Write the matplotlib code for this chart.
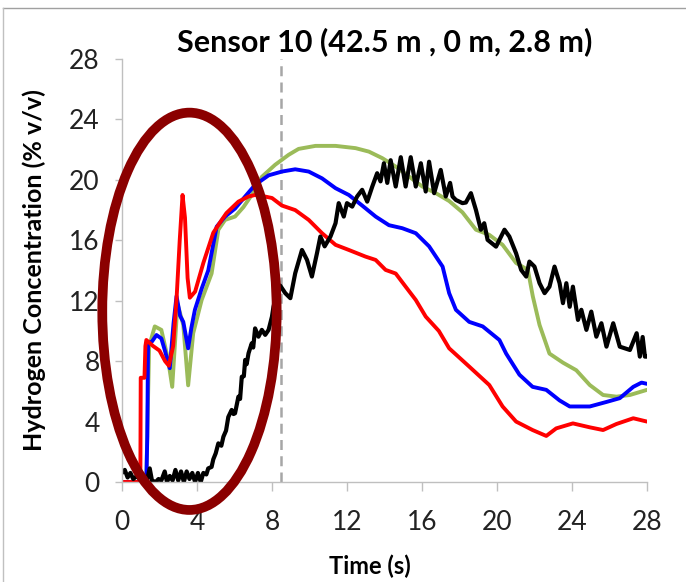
import matplotlib

matplotlib.use("Agg")
import matplotlib.pyplot as plt
from matplotlib.patches import Ellipse
from matplotlib.lines import Line2D

plt.rcParams["font.family"] = ["Lato", "DejaVu Sans"]

# --- data (time in s, concentration in % v/v) ---
red_t = [0, 0.98, 1.0, 1.2, 1.25, 1.3, 1.66, 2.0, 2.3, 2.5, 2.73, 2.91, 3.08, 3.23,
         3.36, 3.5, 3.62, 3.9, 4.34, 4.87, 5.32, 5.57, 6.21, 6.75, 7.1, 7.46, 8.0,
         8.53, 9.24, 9.96, 10.67, 11.39, 12.1, 12.99, 13.53, 14.06, 14.6, 15.13,
         15.67, 16.2, 16.9, 17.45, 18.52, 19.59, 20.3, 21.02, 21.9, 22.63, 23.16,
         24.05, 24.95, 25.66, 26.37, 27.27, 28]
red_v = [0, 0, 6.9, 6.9, 9.0, 9.4, 9.0, 8.7, 8.0, 7.7, 9.0, 12.1, 16.0, 19.0,
         17.5, 13.5, 12.2, 12.6, 14.5, 16.5, 17.35, 17.8, 18.56, 18.9, 19.0, 18.94, 18.8,
         18.3, 18.0, 17.35, 16.47, 15.7, 15.36, 14.92, 14.7, 14.04, 13.8, 12.93,
         12.05, 10.95, 10.0, 8.85, 7.64, 6.42, 5.0, 4.0, 3.44, 3.05, 3.55,
         3.88, 3.62, 3.44, 3.84, 4.22, 4.0]

blue_t = [0, 1.3, 1.35, 1.39, 1.6, 1.84, 2.1, 2.28, 2.55, 2.75, 2.91, 3.1, 3.27,
          3.53, 3.7, 3.89, 4.25, 4.6, 5.05, 5.5, 6.03, 6.57, 7.1, 7.82, 8.53, 9.24,
          9.96, 10.67, 11.39, 12.1, 12.81, 13.53, 14.24, 14.95, 15.67, 16.38, 17.1,
          17.45, 17.81, 18.52, 19.24, 20.13, 20.49, 21.2, 21.9, 22.63, 23.34, 23.88,
          24.95, 25.84, 26.55, 27.27, 27.71, 28]
blue_v = [0, 0, 3.0, 9.2, 9.3, 9.73, 9.5, 8.74, 7.53, 10.5, 12.3, 11.0, 10.6,
          8.85, 10.2, 11.4, 12.8, 14.0, 16.9, 17.57, 18.1, 18.9, 19.67, 20.3, 20.55, 20.7,
          20.55, 20.1, 19.45, 19.0, 18.3, 17.57, 17.0, 16.8, 16.47, 15.6, 14.26,
          12.5, 11.4, 10.6, 10.3, 9.4, 8.5, 7.1, 6.3, 6.1, 5.4, 5.0,
          5.0, 5.3, 5.55, 6.3, 6.58, 6.5]

green_t = [0, 1.3, 1.32, 1.45, 1.75, 2.1, 2.46, 2.68, 2.96, 3.27, 3.53, 3.8, 4.25,
           4.78, 5.14, 5.5, 6.03, 6.48, 6.92, 7.46, 8.17, 8.89, 9.42, 10.32, 11.39,
           12.46, 13.17, 13.88, 14.6, 15.31, 16.02, 16.74, 17.45, 18.16, 18.88, 19.59,
           20.3, 21.02, 21.65, 21.91, 22.27, 22.8, 23.52, 24.23, 24.95, 25.66, 26.37,
           27.09, 28]
green_v = [0, 0, 1.46, 9.0, 10.3, 10.07, 8.1, 6.3, 11.8, 10.4, 6.4, 9.85, 12.05,
           13.8, 16.7, 17.35, 17.57, 18.2, 19.0, 20.2, 21.0, 21.66, 22.05, 22.25, 22.25,
           22.1, 21.87, 21.44, 20.88, 20.22, 19.56, 19.12, 18.6, 17.85, 16.7, 16.36,
           15.7, 14.5, 14.04, 12.3, 10.4, 8.5, 7.9, 7.4, 6.42, 5.76, 5.65,
           5.76, 6.1]

black_t = [0, 0.15, 0.3, 0.45, 0.6, 0.8, 1.0, 1.2, 1.35, 1.48, 1.6, 1.8, 1.95, 2.1,
           2.28, 2.4, 2.55, 2.7, 2.85, 3.0, 3.15, 3.3, 3.45, 3.6, 3.75, 3.9, 4.05,
           4.2, 4.34, 4.5, 4.6, 4.78, 4.87, 5.0, 5.14, 5.3, 5.41, 5.55, 5.67, 5.85,
           5.95, 6.03, 6.21, 6.3, 6.39, 6.5, 6.57, 6.65, 6.75, 6.92, 7.0, 7.1, 7.28,
           7.46, 7.64, 7.82, 8.0, 8.08, 8.17, 8.44, 8.71, 8.98, 9.24, 9.6, 9.87,
           10.13, 10.4, 10.58, 10.81, 11.12, 11.39, 11.56, 11.83, 12.0, 12.28, 12.54,
           12.81, 13.08, 13.35, 13.61, 13.79, 13.97, 14.15, 14.33, 14.6, 14.87, 15.13,
           15.4, 15.67, 15.94, 16.2, 16.38, 16.65, 17.0, 17.27, 17.5, 17.63, 17.81,
           18.16, 18.34, 18.61, 18.88, 19.14, 19.32, 19.5, 19.95, 20.4, 20.66, 21.02,
           21.29, 21.56, 21.73, 22.0, 22.27, 22.54, 22.8, 23.07, 23.34, 23.52, 23.7,
           23.88, 24.05, 24.32, 24.5, 24.77, 25.03, 25.3, 25.57, 25.84, 26.2, 26.55,
           27.09, 27.45, 27.62, 27.77, 27.89, 28]
black_v = [0.6, 0.8, 0.3, 0.6, 0.2, 0.4, 0.1, 0.0, 0.2, 0.9, 0.1, 0.0, 0.2, 0.1,
           0.7, 0.0, 0.4, 0.1, 0.8, 0.1, 0.7, 0.0, 0.7, 0.2, 0.6, 0.0, 0.6,
           0.0, 0.6, 0.5, 0.9, 1.0, 1.5, 1.9, 2.56, 2.4, 3.0, 3.4, 4.3, 4.77,
           4.5, 4.55, 5.65, 5.5, 6.97, 7.0, 8.08, 7.8, 8.52, 9.18, 8.9, 10.17, 9.62,
           10.07, 9.74, 10.07, 10.95, 11.6, 12.05, 13.0, 12.5, 12.17, 13.82, 15.36, 14.7,
           13.6, 15.14, 16.25, 15.6, 16.25, 17.13, 18.46, 17.57, 18.46, 18.23, 18.9,
           19.34, 18.56, 19.56, 20.44, 19.9, 21.1, 19.8, 21.3, 19.56, 21.5, 19.56,
           21.5, 19.56, 21.1, 19.23, 21.2, 19.12, 20.66, 18.9, 19.8, 18.9, 18.67,
           18.46, 18.5, 19.12, 18.0, 16.7, 17.13, 16.03, 15.58, 16.7, 16.25, 15.14,
           14.04, 13.6, 14.59, 14.26, 13.16, 12.5, 12.93, 14.26, 13.16, 11.84, 13.16,
           11.6, 12.93, 10.73, 11.4, 10.07, 11.28, 9.62, 10.51, 8.96, 10.51, 8.96,
           8.74, 9.85, 8.3, 9.6, 8.3, 8.3]

x_ticks = [0, 4, 8, 12, 16, 20, 24, 28]
y_ticks = [0, 4, 8, 12, 16, 20, 24, 28]
marker_t = 8.5          # dashed vertical line
ring = (3.6, 11.3, 9.3, 26.3)   # highlight ellipse: centre x, centre y, width, height

fig = plt.figure(figsize=(6.86, 5.82), dpi=100)
ax = fig.add_axes([0.1778, 0.1718, 0.7653, 0.7268])

kw = dict(solid_joinstyle="round", solid_capstyle="round")
ax.plot(green_t, green_v, color="#9BBB59", lw=2.8, **kw)
ax.plot(blue_t, blue_v, color="#0000FF", lw=2.8, **kw)
ax.plot(red_t, red_v, color="#FF0000", lw=2.8, **kw)
ax.plot(black_t, black_v, color="black", lw=3.0, **kw)

ax.axvline(marker_t, color="#A6A6A6", lw=1.8, ls=(0, (4, 2.5)), zorder=1)

ax.add_patch(Ellipse((ring[0], ring[1]), ring[2], ring[3], fill=False,
                     edgecolor="#8B0000", lw=7, clip_on=False, zorder=10))

ax.set_xlim(0, 28)
ax.set_ylim(0, 28)
ax.set_xticks(x_ticks)
ax.set_yticks(y_ticks)
for s in ["top", "right"]:
    ax.spines[s].set_visible(False)
for s in ["left", "bottom"]:
    ax.spines[s].set_color("#BFBFBF")
    ax.spines[s].set_linewidth(1.0)
ax.tick_params(colors="#BFBFBF", labelcolor="#222222", width=1, labelsize=19)
ax.tick_params(axis="x", length=6.5, pad=14)
ax.tick_params(axis="y", length=5, pad=11)

ax.set_xlabel("Time (s)", fontsize=17, fontweight="bold", va="center")
ax.xaxis.set_label_coords(0.472, -0.2)
ax.set_ylabel("Hydrogen Concentration (% v/v)", fontsize=18, fontweight="bold",
              va="center")
ax.yaxis.set_label_coords(-0.1675, 0.5)
ax.set_title("Sensor 10 (42.5 m , 0 m, 2.8 m)", fontsize=22, fontweight="bold",
             pad=6)

# thin frame of the original image (top and left edges)
fig.add_artist(Line2D([0.005, 1], [0.986, 0.986], color="#A0A0A0", lw=1,
                      transform=fig.transFigure))
fig.add_artist(Line2D([0.005, 0.005], [0, 0.986], color="#C0C0C0", lw=1,
                      transform=fig.transFigure))

fig.savefig("out.png", dpi=100)
